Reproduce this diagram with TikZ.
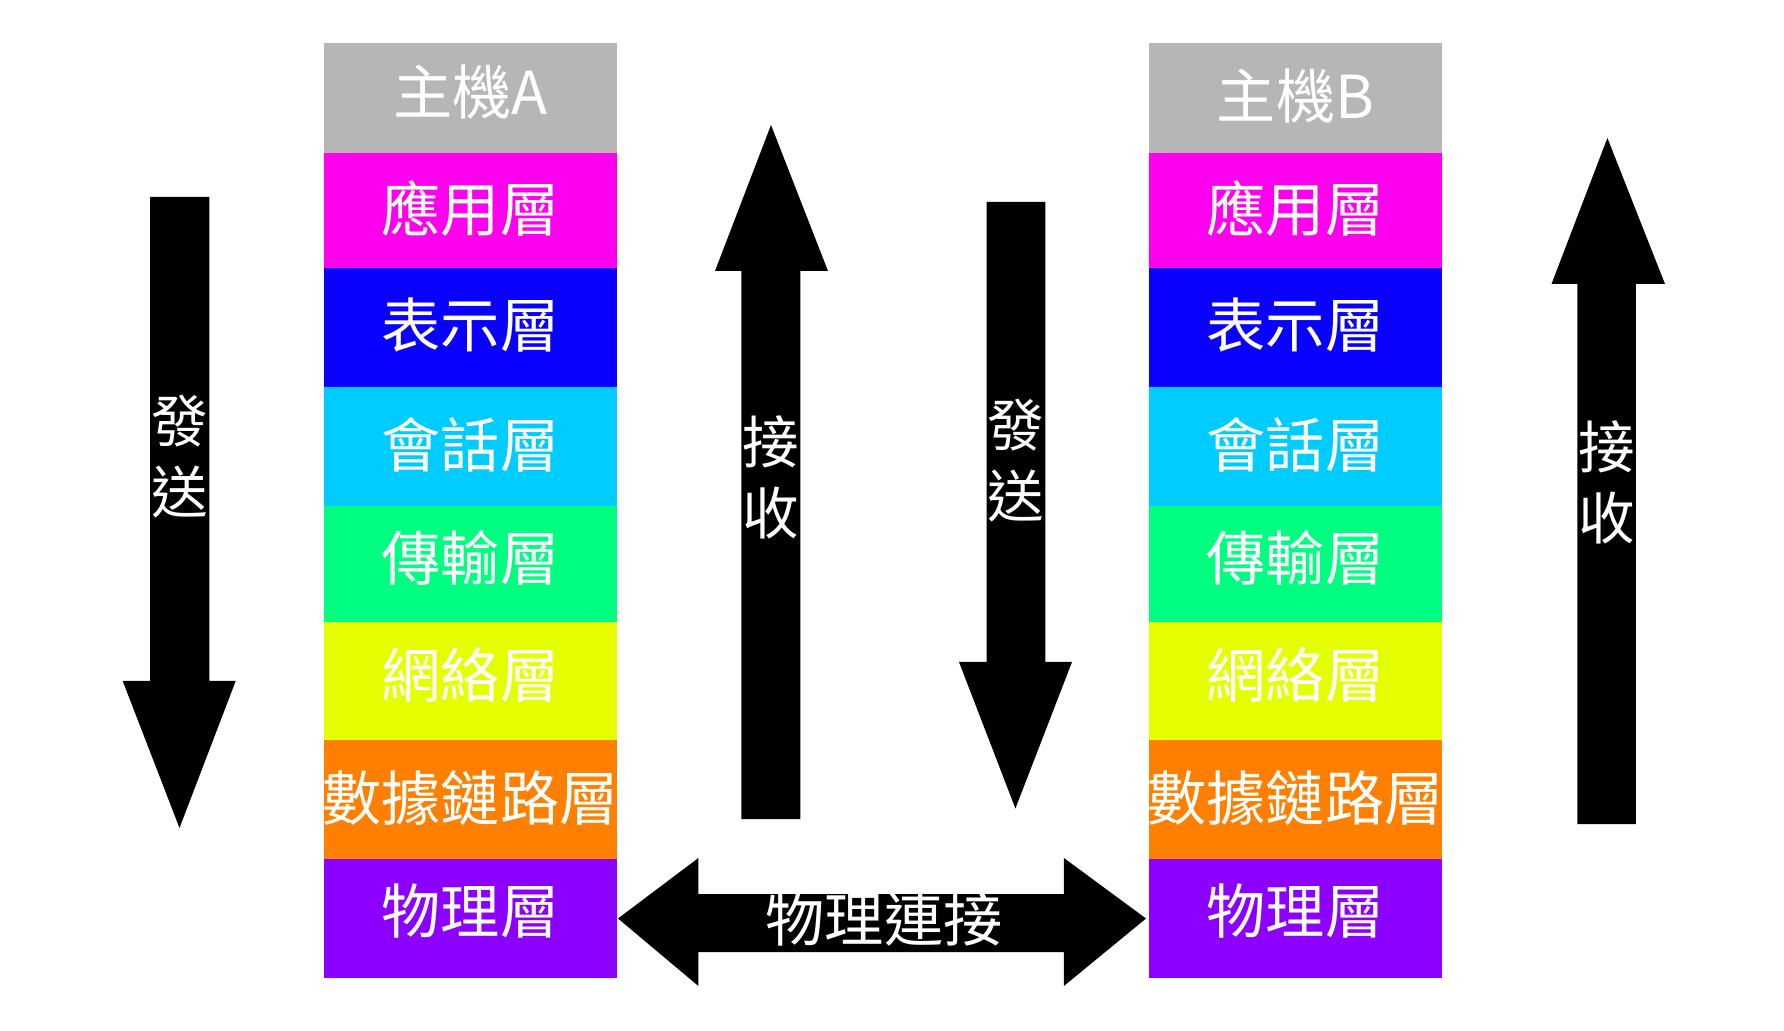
\documentclass[tikz,border=0pt]{standalone}
\usepackage{fontspec}
\newfontfamily\cjk{Noto Sans CJK TC}
\definecolor{cGray}{RGB}{182,182,182}
\definecolor{cMag}{RGB}{255,0,238}
\definecolor{cBlue}{RGB}{10,0,255}
\definecolor{cCyan}{RGB}{0,204,255}
\definecolor{cGreen}{RGB}{0,255,128}
\definecolor{cYellow}{RGB}{229,255,0}
\definecolor{cOrange}{RGB}{255,128,0}
\definecolor{cPurple}{RGB}{140,0,255}
\tikzset{
  layer/.style={rectangle, inner sep=0pt, outer sep=0pt, minimum width=146.5pt},
  txt/.style={inner sep=0pt, text=white, font=\cjk\fontsize{29.6}{35.5}\selectfont},
  vlabel/.style={inner sep=0pt, text=white, align=center,
    font=\cjk\fontsize{28.3}{35.5}\selectfont},
  blockarrow/.style={fill=black, draw=none}
}
\begin{document}
\begin{tikzpicture}[x=0.5pt,y=-0.5pt]
\useasboundingbox (0,0) rectangle (1784,1031);
% Host A boxes
\node[layer, fill=cGray,   minimum height=55pt]   (a0) at (470.5,98)    {};
\node[layer, fill=cMag,    minimum height=57.5pt] (a1) at (470.5,210.5) {};
\node[layer, fill=cBlue,   minimum height=59.5pt] (a2) at (470.5,327.5) {};
\node[layer, fill=cCyan,   minimum height=59.5pt] (a3) at (470.5,446.5) {};
\node[layer, fill=cGreen,  minimum height=58pt]   (a4) at (470.5,564)   {};
\node[layer, fill=cYellow, minimum height=59pt]   (a5) at (470.5,681)   {};
\node[layer, fill=cOrange, minimum height=59.5pt] (a6) at (470.5,799.5) {};
\node[layer, fill=cPurple, minimum height=59.5pt] (a7) at (470.5,918.5) {};
% Host A texts
\node[txt] (ta0) at ([yshift=3pt]a0.center)   {主機A};
\node[txt] (ta1) at ([yshift=1pt]a1.center)   {應用層};
\node[txt] (ta2) at ([yshift=1pt]a2.center)   {表示層};
\node[txt] (ta3) at ([yshift=1pt]a3.center)   {會話層};
\node[txt] (ta4) at ([yshift=3.2pt]a4.center) {傳輸層};
\node[txt] (ta5) at ([yshift=3.2pt]a5.center) {網絡層};
\node[txt] (ta6) at ([yshift=1pt]a6.center)   {數據鏈路層};
\node[txt] (ta7) at ([yshift=3.5pt]a7.center) {物理層};
% Host B boxes
\node[layer, fill=cGray,   minimum height=55pt]   (b0) at (1295.5,98)    {};
\node[layer, fill=cMag,    minimum height=57.5pt] (b1) at (1295.5,210.5) {};
\node[layer, fill=cBlue,   minimum height=59.5pt] (b2) at (1295.5,327.5) {};
\node[layer, fill=cCyan,   minimum height=59.5pt] (b3) at (1295.5,446.5) {};
\node[layer, fill=cGreen,  minimum height=58pt]   (b4) at (1295.5,564)   {};
\node[layer, fill=cYellow, minimum height=59pt]   (b5) at (1295.5,681)   {};
\node[layer, fill=cOrange, minimum height=59.5pt] (b6) at (1295.5,799.5) {};
\node[layer, fill=cPurple, minimum height=59.5pt] (b7) at (1295.5,918.5) {};
% Host B texts
\node[txt] (tb0) at ([yshift=1pt]b0.center)   {主機B};
\node[txt] (tb1) at ([yshift=1pt]b1.center)   {應用層};
\node[txt] (tb2) at ([yshift=1pt]b2.center)   {表示層};
\node[txt] (tb3) at ([yshift=1pt]b3.center)   {會話層};
\node[txt] (tb4) at ([yshift=3.2pt]b4.center) {傳輸層};
\node[txt] (tb5) at ([yshift=3.2pt]b5.center) {網絡層};
\node[txt] (tb6) at ([yshift=1pt]b6.center)   {數據鏈路層};
\node[txt] (tb7) at ([yshift=3.5pt]b7.center) {物理層};
% Left send arrow (down)
\fill[blockarrow] (150.2,197) -- (209.3,197) -- (209.3,681) -- (235.7,681) -- (179.5,828)
  -- (122.7,681) -- (150.2,681) -- cycle;
\node[vlabel] (sendA) at (179.5,457) {發\\送};
% Left receive arrow (up)
\fill[blockarrow] (741.4,819) -- (800.4,819) -- (800.4,271) -- (828,271) -- (771,125)
  -- (715,271) -- (741.4,271) -- cycle;
\node[vlabel] (recvA) at (771,477) {接\\收};
% Right send arrow (down)
\fill[blockarrow] (986.6,202) -- (1045.4,202) -- (1045.4,662) -- (1072,662) -- (1015.4,808.5)
  -- (959,662) -- (986.6,662) -- cycle;
\node[vlabel] (sendB) at (1016,461) {發\\送};
% Right receive arrow (up)
\fill[blockarrow] (1577.4,824) -- (1635.8,824) -- (1635.8,284) -- (1665,284) -- (1607.4,138)
  -- (1551.5,284) -- (1577.4,284) -- cycle;
\node[vlabel] (recvB) at (1607,482) {接\\收};
% Physical connection double arrow
\fill[blockarrow] ([xshift=0.5pt]a7.east) -- (698.4,858) -- (698.4,894) -- (1063.9,894) -- (1063.9,858)
  -- ([xshift=-1.5pt]b7.west) -- (1063.9,986) -- (1063.9,952) -- (698.4,952) -- (698.4,986) -- cycle;
\node[txt] (phys) at (884,919) {物理連接};
\end{tikzpicture}
\end{document}
